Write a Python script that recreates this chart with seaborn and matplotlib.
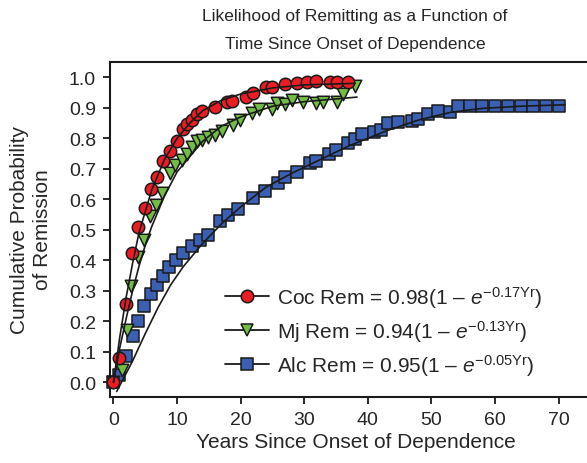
import matplotlib
matplotlib.use('Agg')
import matplotlib.pyplot as plt
from matplotlib.lines import Line2D
import seaborn as sns
import pandas as pd
import numpy as np

coc_years = [0, 0.8, 1.9, 2.9, 3.9, 4.9, 5.9, 6.9, 7.8, 8.9, 10.0, 10.9, 11.6, 12.3, 13.1, 13.9,
             16.0, 17.8, 18.7, 20.8, 22.0, 23.9, 24.9, 27.0, 28.8, 30.4, 31.9, 34.0, 35.1, 36.9]
coc_prob = [0.0, 0.08, 0.258, 0.423, 0.51, 0.571, 0.635, 0.674, 0.727, 0.759, 0.792, 0.831, 0.847,
            0.861, 0.878, 0.891, 0.903, 0.918, 0.923, 0.935, 0.95, 0.968, 0.969, 0.977, 0.982,
            0.984, 0.987, 0.984, 0.984, 0.984]

mj_years = [0, 1.3, 2.1, 2.8, 3.9, 4.8, 5.8, 6.7, 7.7, 8.9, 9.7, 10.7, 11.5, 12.3, 13.1, 13.9, 14.9,
            16.0, 17.0, 18.8, 19.9, 21.8, 22.9, 24.9, 25.7, 27.0, 28.0, 29.8, 31.9, 33.0, 35.1, 36.1, 38.0]
mj_prob = [0.0, 0.042, 0.17, 0.315, 0.41, 0.468, 0.545, 0.582, 0.62, 0.685, 0.713, 0.729, 0.748, 0.77,
           0.79, 0.795, 0.804, 0.812, 0.825, 0.843, 0.861, 0.882, 0.895, 0.895, 0.917, 0.912, 0.924,
           0.918, 0.917, 0.918, 0.918, 0.946, 0.971]

alc_years = [0, 0.9, 1.9, 3.0, 3.8, 4.8, 5.9, 6.8, 7.8, 8.8, 9.8, 10.9, 12.3, 13.6, 14.9, 16.7, 18.0,
             19.6, 22.0, 23.8, 25.9, 27.0, 28.8, 30.9, 31.9, 33.9, 35.0, 36.9, 38.0, 39.0, 40.9, 42.0,
             43.2, 44.8, 46.9, 47.9, 49.5, 51.1, 52.9, 54.1, 56, 58, 60, 62, 64, 66, 68, 70]
alc_prob = [0.0, 0.025, 0.088, 0.152, 0.20, 0.25, 0.29, 0.32, 0.35, 0.377, 0.40, 0.425, 0.446, 0.465,
            0.482, 0.529, 0.548, 0.568, 0.603, 0.627, 0.654, 0.674, 0.691, 0.718, 0.724, 0.748, 0.76,
            0.784, 0.798, 0.814, 0.82, 0.826, 0.85, 0.853, 0.856, 0.864, 0.88, 0.889, 0.887, 0.907,
            0.907, 0.907, 0.907, 0.907, 0.907, 0.907, 0.907, 0.907]

# fitted curves
coc_fit_x = [0, 1, 2, 3, 4, 5, 6, 8, 10, 12, 14, 17, 20, 25, 30, 38]
coc_fit_y = [0.0, 0.15, 0.28, 0.39, 0.49, 0.56, 0.63, 0.73, 0.80, 0.85, 0.89, 0.925, 0.945, 0.965, 0.975, 0.98]
mj_fit_x = [0, 1, 2, 3, 4, 5, 6, 8, 10, 12, 14, 17, 20, 25, 30, 38.3]
mj_fit_y = [0.0, 0.115, 0.21, 0.30, 0.38, 0.45, 0.51, 0.61, 0.69, 0.74, 0.79, 0.84, 0.87, 0.905, 0.92, 0.935]
alc_fit_x = [0.5, 3, 5, 7, 9, 11, 14, 17, 20, 24, 28, 32, 37, 43, 48, 53, 58, 64, 71]
alc_fit_y = [-0.03, 0.07, 0.16, 0.245, 0.32, 0.38, 0.455, 0.52, 0.575, 0.64, 0.685, 0.725, 0.775,
             0.825, 0.86, 0.885, 0.898, 0.905, 0.91]

labels = ['Coc Rem = 0.98(1 – $\\mathit{e}^{-0.17\\mathrm{Yr}}$)',
          'Mj Rem = 0.94(1 – $\\mathit{e}^{-0.13\\mathrm{Yr}}$)',
          'Alc Rem = 0.95(1 – $\\mathit{e}^{-0.05\\mathrm{Yr}}$)']

sns.set_style('white')
plt.rcParams['font.family'] = ['Liberation Sans', 'DejaVu Sans']
plt.rcParams['mathtext.fontset'] = 'custom'
plt.rcParams['mathtext.rm'] = 'Liberation Sans'
plt.rcParams['mathtext.it'] = 'Liberation Sans:italic'

fig = plt.figure(figsize=(5.87, 4.64), dpi=100)
ax = fig.add_axes([110 / 587, 65.7 / 464, 477 / 587, 335.3 / 464])

series = [
    (alc_years, alc_prob, alc_fit_x, alc_fit_y, 's', '#3a5fb3'),
    (mj_years, mj_prob, mj_fit_x, mj_fit_y, 'v', '#72bd45'),
    (coc_years, coc_prob, coc_fit_x, coc_fit_y, 'o', '#ec1c24'),
]
for xs, ys, fx, fy, mk, col in series:
    d = pd.DataFrame({'x': xs, 'y': ys})
    sns.scatterplot(data=d, x='x', y='y', marker=mk, color=col, s=80, edgecolor='#1a1a1a',
                    linewidth=1.1, ax=ax, zorder=3, clip_on=False)
for xs, ys, fx, fy, mk, col in series:
    f = pd.DataFrame({'x': fx, 'y': fy})
    sns.lineplot(data=f, x='x', y='y', color='#1a1a1a', lw=1.2, ax=ax, zorder=4, sort=False)

ax.set_xlim(-0.55, 74.45)
ax.set_ylim(-0.049, 1.05)
ax.set_xticks(range(0, 71, 10))
ax.set_yticks(np.arange(0, 1.01, 0.1))
ax.set_yticklabels([f'{v:.1f}' for v in np.arange(0, 1.01, 0.1)])
ax.tick_params(bottom=True, left=True, direction='out', length=5, width=1.3, labelsize=14,
               color='#1a1a1a', pad=5)
ax.spines['right'].set_visible(False)
for s in ['left', 'bottom', 'top']:
    ax.spines[s].set_linewidth(1.5)
    ax.spines[s].set_color('#1a1a1a')
ax.set_xlabel('')
ax.set_ylabel('')

handles = [Line2D([], [], color='#1a1a1a', lw=1.3, marker=m, markersize=9,
                  markerfacecolor=c, markeredgecolor='#1a1a1a', markeredgewidth=1.1)
           for m, c in [('o', '#ec1c24'), ('v', '#72bd45'), ('s', '#3a5fb3')]]
ax.legend(handles, labels, loc='upper left', bbox_to_anchor=(225 / 587, 1 - 285 / 464),
          bbox_transform=fig.transFigure, frameon=False, fontsize=15, borderpad=0,
          borderaxespad=0, handlelength=2.1, handletextpad=0.4, labelspacing=0.38)

fig.text(355 / 587, 1 - 16 / 464, 'Likelihood of Remitting as a Function of', ha='center', va='center', fontsize=12.5)
fig.text(355 / 587, 1 - 44 / 464, 'Time Since Onset of Dependence', ha='center', va='center', fontsize=12.5)
fig.text(356 / 587, 1 - 443 / 464, 'Years Since Onset of Dependence', ha='center', va='center', fontsize=15)
fig.text(31 / 587, 1 - 230 / 464, 'Cumulative Probability\nof Remission', ha='center', va='center',
         rotation=90, fontsize=15, linespacing=1.25)

fig.savefig('out.png', dpi=100)
